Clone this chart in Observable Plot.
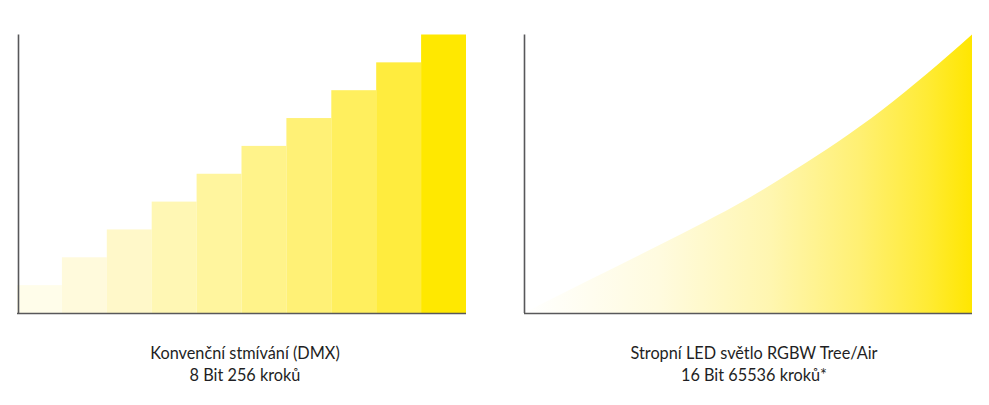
<!DOCTYPE html>
<html>
<head>
<meta charset="utf-8">
<script src="https://cdn.jsdelivr.net/npm/d3@7"></script>
<script src="https://cdn.jsdelivr.net/npm/@observablehq/plot@0.6"></script>
<style>
  html, body { margin: 0; padding: 0; background: #ffffff; }
  #wrap { position: relative; width: 989px; height: 405px; overflow: hidden; font-family: Lato, "Open Sans", sans-serif; }
  .panel { position: absolute; top: 0; }
  .cap { position: absolute; width: 420px; text-align: center; font-size: 16.3px; line-height: 22px; color: #1f1f24; }
</style>
</head>
<body>
<div id="wrap">
  <div class="panel" id="left" style="left:0px"></div>
  <div class="panel" id="right" style="left:500px"></div>
  <div class="cap" id="capL" style="left:35px; top:342px"></div>
  <div class="cap" id="capR" style="left:544px; top:342px"></div>
</div>
<script>
// Left panel: 10 discrete dimming steps (8 bit)
const stepLevels = [1, 2, 3, 4, 5, 6, 7, 8, 9, 10];
const stepColors = ["#fffdea", "#fffadc", "#fff8c9", "#fff7b4", "#fff59e", "#fff38a", "#fff176", "#ffef5e", "#ffec3e", "#ffe800"];

// Right panel: smooth dimming curve (16 bit)
const curveX = [0, 10, 20, 30, 40, 50, 60, 70, 80, 90, 100];
const curveY = [0, 8.2, 16.2, 24.2, 32.4, 41.1, 51.0, 61.4, 73.0, 86.0, 100];

const captionLeft = ["Konvenční stmívání (DMX)", "8 Bit 256 kroků"];
const captionRight = ["Stropní LED světlo RGBW Tree/Air", "16 Bit 65536 kroků*"];

const axisColor = "#58585a";

const stepData = stepLevels.map((v, i) => ({i0: i, i1: i + 1, v, c: stepColors[i]}));

const left = Plot.plot({
  width: 490,
  height: 330,
  marginLeft: 17,
  marginRight: 24,
  marginTop: 34.5,
  marginBottom: 17,
  x: {domain: [0, 10], axis: null},
  y: {domain: [0, 10], axis: null},
  color: {type: "identity"},
  marks: [
    Plot.rectY(stepData, {x1: "i0", x2: "i1", y: "v", fill: "c", inset: 0}),
    Plot.ruleX([0], {stroke: axisColor, strokeWidth: 1.6, dx: 1}),
    Plot.ruleY([0], {stroke: axisColor, strokeWidth: 1.6})
  ]
});
document.getElementById("left").appendChild(left);

const curveData = curveX.map((x, i) => ({x, y: curveY[i]}));

const right = Plot.plot({
  width: 489,
  height: 330,
  marginLeft: 24,
  marginRight: 17,
  marginTop: 34.5,
  marginBottom: 17,
  x: {domain: [0, 100], axis: null},
  y: {domain: [0, 100], axis: null},
  marks: [
    Plot.areaY(curveData, {x: "x", y: "y", fill: "url(#dimGrad)", curve: "monotone-x"}),
    Plot.ruleX([0], {stroke: axisColor, strokeWidth: 1.6}),
    Plot.ruleY([0], {stroke: axisColor, strokeWidth: 1.6})
  ]
});
// gradient definition
const ns = "http://www.w3.org/2000/svg";
const defs = document.createElementNS(ns, "defs");
const grad = document.createElementNS(ns, "linearGradient");
grad.setAttribute("id", "dimGrad");
grad.setAttribute("x1", "0"); grad.setAttribute("x2", "1");
grad.setAttribute("y1", "0"); grad.setAttribute("y2", "0");
[["0", "#ffffff"], ["0.3", "#fffbdf"], ["0.55", "#fff6b0"], ["0.75", "#fff072"], ["0.9", "#ffeb35"], ["1", "#ffe600"]].forEach(([o, c]) => {
  const s = document.createElementNS(ns, "stop");
  s.setAttribute("offset", o);
  s.setAttribute("stop-color", c);
  grad.appendChild(s);
});
defs.appendChild(grad);
right.insertBefore(defs, right.firstChild);
document.getElementById("right").appendChild(right);

document.getElementById("capL").innerHTML = captionLeft.join("<br>");
document.getElementById("capR").innerHTML = captionRight.join("<br>");
</script>
</body>
</html>
